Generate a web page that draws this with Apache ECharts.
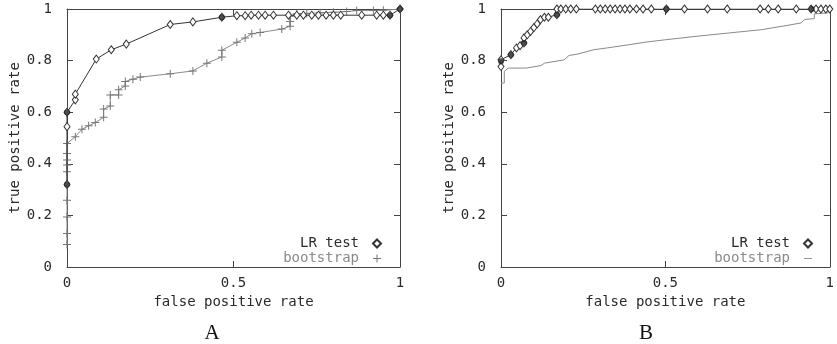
<!DOCTYPE html>
<html>
<head>
	<meta charset="utf-8" />
	<title>ROC curves</title>
	<script src="https://cdn.jsdelivr.net/npm/echarts@6/dist/echarts.min.js"></script>
	<style>
		html, body { margin: 0; padding: 0; background: #fff; }
		#main { width: 837px; height: 344px; }
	</style>
</head>
<body>
	<div id="main"></div>
	<script type="text/javascript">
		// panel A
		var lrA = [[0,0.32],[0,0.544],[0,0.6],[0.025,0.648],[0.025,0.67],[0.088,0.806],[0.133,0.842],[0.178,0.864],
			[0.31,0.94],[0.378,0.95],[0.465,0.968],[0.51,0.974],[0.535,0.974],[0.553,0.976],[0.575,0.976],[0.595,0.976],
			[0.62,0.976],[0.665,0.976],[0.69,0.976],[0.71,0.976],[0.735,0.976],[0.755,0.976],[0.778,0.976],[0.8,0.976],
			[0.822,0.976],[0.885,0.976],[0.93,0.976],[0.95,0.976],[0.97,0.976],[1,1]];
		var lrDenseA = [[0,0.6],[0,0.32],[0.465,0.968],[0.97,0.976],[1,1]];
		var bootA = [[0,0.087],[0,0.13],[0,0.194],[0,0.259],[0,0.369],[0,0.395],[0,0.415],[0,0.44],[0,0.479],
			[0.025,0.505],[0.045,0.534],[0.065,0.547],[0.085,0.56],[0.11,0.58],[0.11,0.612],[0.13,0.624],[0.13,0.667],
			[0.155,0.667],[0.155,0.687],[0.175,0.702],[0.175,0.719],[0.198,0.728],[0.22,0.736],[0.31,0.749],[0.378,0.76],
			[0.42,0.79],[0.465,0.814],[0.465,0.84],[0.51,0.871],[0.535,0.888],[0.555,0.904],[0.58,0.909],[0.645,0.922],
			[0.67,0.933],[0.67,0.952],[0.67,0.972],[0.69,0.982],[0.72,0.983],[0.76,0.985],[0.8,0.987],[0.84,0.99],
			[0.87,0.994],[0.92,0.994],[0.95,0.995],[1,1]];
		// panel B
		var lrB = [[0,0.777],[0,0.803],[0.03,0.823],[0.047,0.849],[0.058,0.858],[0.07,0.868],[0.07,0.888],[0.08,0.9],
			[0.09,0.913],[0.1,0.928],[0.11,0.942],[0.12,0.959],[0.132,0.968],[0.144,0.968],[0.17,0.978],[0.17,1],
			[0.182,1],[0.197,1],[0.212,1],[0.229,1],[0.287,1],[0.302,1],[0.317,1],[0.332,1],[0.347,1],[0.362,1],
			[0.377,1],[0.392,1],[0.412,1],[0.432,1],[0.457,1],[0.503,1],[0.558,1],[0.628,1],[0.688,1],[0.788,1],
			[0.813,1],[0.843,1],[0.898,1],[0.943,1],[0.958,1],[0.973,1],[0.988,1],[1,1]];
		var lrDenseB = [[0,0.797],[0.03,0.823],[0.07,0.868],[0.17,0.978],[0.503,1],[0.945,1]];
		var bootB = [[0,0.713],[0.01,0.713],[0.01,0.758],[0.022,0.771],[0.077,0.771],[0.122,0.781],[0.132,0.79],
			[0.192,0.803],[0.207,0.82],[0.232,0.825],[0.282,0.842],[0.322,0.849],[0.392,0.862],[0.442,0.872],
			[0.502,0.881],[0.593,0.894],[0.693,0.907],[0.793,0.92],[0.873,0.937],[0.913,0.946],[0.923,0.959],
			[0.953,0.963],[0.953,0.981],[0.993,0.985],[1,0.99]];

		var xTicks = [0, 0.5, 1];
		var yTicks = [0, 0.2, 0.4, 0.6, 0.8, 1];
		var panelLabels = ['A', 'B'];

		var mono = '"DejaVu Sans Mono", monospace';
		var dark = '#2a2a2a';
		var grey = '#8a8a8a';
		var plusIcon = 'path://M3.5,0h1v8h-1zM0,3.5h8v1h-8z';
		var dashIcon = 'path://M0,0h10v1h-10z';

		var myChart = echarts.init(document.getElementById('main'), null, { renderer: 'canvas' });

		function xAxisFor(i, pos) {
			var bottom = pos === 'bottom';
			return {
				type: 'value', gridIndex: i, position: pos, min: xTicks[0], max: xTicks[xTicks.length - 1], interval: 0.5,
				name: bottom ? 'false positive rate' : '', nameLocation: 'middle', nameGap: 27,
				nameTextStyle: { fontFamily: mono, fontSize: 14, color: dark },
				axisLine: { show: true, onZero: false, lineStyle: { color: '#444', width: 1 } },
				axisTick: { show: true, inside: true, length: 6, lineStyle: { color: '#444' } },
				axisLabel: { show: bottom, margin: 9, fontFamily: mono, fontSize: 14, color: dark },
				splitLine: { show: false }
			};
		}
		function yAxisFor(i, pos) {
			var left = pos === 'left';
			return {
				type: 'value', gridIndex: i, position: pos, min: yTicks[0], max: yTicks[yTicks.length - 1], interval: 0.2,
				name: left ? 'true positive rate' : '', nameLocation: 'middle', nameGap: 45, nameRotate: 90,
				nameTextStyle: { fontFamily: mono, fontSize: 14, color: dark },
				axisLine: { show: true, onZero: false, lineStyle: { color: '#444', width: 1 } },
				axisTick: { show: true, inside: true, length: 6, lineStyle: { color: '#444' } },
				axisLabel: { show: left, margin: 15, fontFamily: mono, fontSize: 14, color: dark },
				splitLine: { show: false }
			};
		}

		function lrSeries(i, data) {
			return {
				name: 'LR test', type: 'line', xAxisIndex: i * 2, yAxisIndex: i * 2, data: data,
				symbol: 'diamond', symbolSize: [6, 8], showAllSymbol: true, animation: false,
				lineStyle: { color: '#333', width: 1 },
				itemStyle: { color: '#fff', borderColor: '#333', borderWidth: 1 },
				z: 4
			};
		}
		function denseSeries(i, data) {
			return {
				name: 'dense', type: 'scatter', xAxisIndex: i * 2, yAxisIndex: i * 2, data: data,
				symbol: 'circle', symbolSize: 6, animation: false,
				itemStyle: { color: '#222' }, z: 5
			};
		}

		function legendFor(right, bootIcon) {
			return {
				orient: 'vertical', align: 'right', right: right, top: 231, itemGap: 0, itemWidth: 8, itemHeight: 8,
				textStyle: { fontFamily: mono, fontSize: 14, lineHeight: 15, padding: [0, 9, 0, 0] },
				data: [
					{ name: 'LR test', icon: 'diamond', textStyle: { color: dark } },
					{ name: 'bootstrap', icon: bootIcon, textStyle: { color: grey } }
				]
			};
		}

		var option = {
			backgroundColor: '#fff',
			animation: false,
			grid: [
				{ left: 67, top: 9, width: 333, height: 258 },
				{ left: 501, top: 9, width: 333, height: 258 }
			],
			xAxis: [xAxisFor(0, 'bottom'), xAxisFor(0, 'top'), xAxisFor(1, 'bottom'), xAxisFor(1, 'top')],
			yAxis: [yAxisFor(0, 'left'), yAxisFor(0, 'right'), yAxisFor(1, 'left'), yAxisFor(1, 'right')],
			legend: [legendFor(450, plusIcon), legendFor(19, dashIcon)],
			graphic: [
				{ type: 'text', x: 212, y: 333, style: { text: panelLabels[0], font: '21px "Liberation Serif", serif', fill: '#111', textAlign: 'center', textVerticalAlign: 'middle' } },
				{ type: 'text', x: 646, y: 333, style: { text: panelLabels[1], font: '21px "Liberation Serif", serif', fill: '#111', textAlign: 'center', textVerticalAlign: 'middle' } }
			],
			series: [
				{
					name: 'bootstrap', type: 'line', xAxisIndex: 0, yAxisIndex: 0, data: bootA,
					symbol: plusIcon, symbolSize: 8, showAllSymbol: true,
					lineStyle: { color: grey, width: 1 }, itemStyle: { color: '#777' }, z: 3
				},
				lrSeries(0, lrA),
				denseSeries(0, lrDenseA),
				{
					name: 'bootstrap', type: 'line', xAxisIndex: 2, yAxisIndex: 2, data: bootB,
					symbol: 'none', lineStyle: { color: grey, width: 1 }, itemStyle: { color: grey }, z: 3
				},
				lrSeries(1, lrB),
				denseSeries(1, lrDenseB)
			]
		};
		myChart.setOption(option);
	</script>
</body>
</html>
